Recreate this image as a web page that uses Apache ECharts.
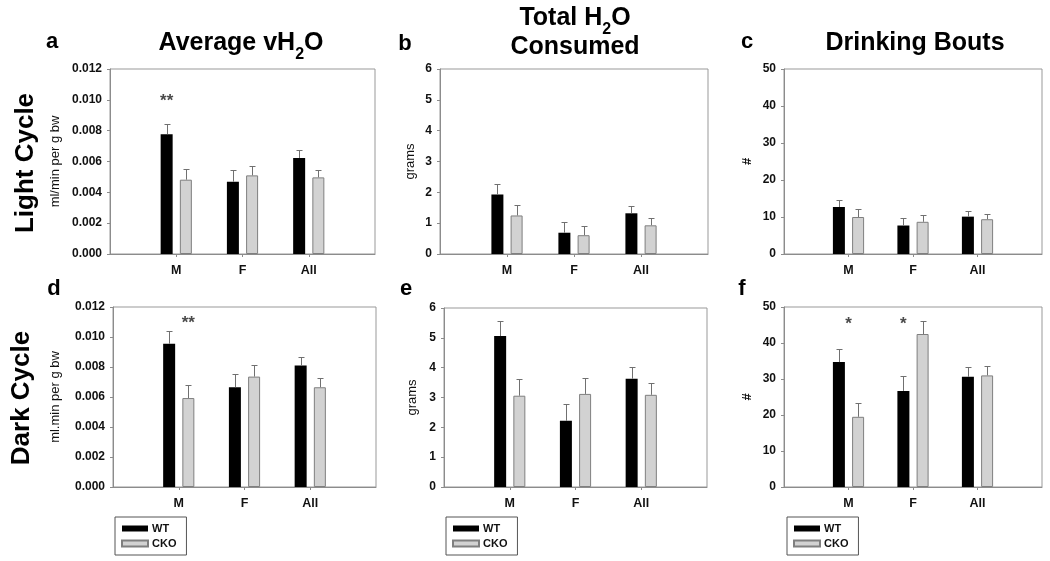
<!DOCTYPE html>
<html><head><meta charset="utf-8">
<script src="https://cdn.jsdelivr.net/npm/echarts@6/dist/echarts.min.js"></script>
<style>html,body{margin:0;padding:0;background:#fff}#c{width:1050px;height:561px}</style>
</head><body><div id="c"></div>
<script>
// ---------- DATA ----------
const categories = ['M', 'F', 'All'];
const groupNames = ['WT', 'CKO'];

// a: Light cycle, Average vH2O (ml/min per g bw)
const aWT = [0.00777, 0.00469, 0.00623];
const aWTerr = [0.00065, 0.00073, 0.00049];
const aCKO = [0.00482, 0.00510, 0.00497];
const aCKOerr = [0.00067, 0.00058, 0.00045];
// b: Light cycle, Total H2O consumed (grams)
const bWT = [1.93, 0.69, 1.32];
const bWTerr = [0.33, 0.35, 0.25];
const bCKO = [1.25, 0.61, 0.93];
const bCKOerr = [0.33, 0.31, 0.23];
// c: Light cycle, Drinking bouts (#)
const cWT = [12.7, 7.7, 10.1];
const cWTerr = [1.95, 1.97, 1.47];
const cCKO = [10.0, 8.7, 9.4];
const cCKOerr = [2.1, 1.88, 1.45];
// d: Dark cycle, Average vH2O (ml.min per g bw)
const dWT = [0.00955, 0.00665, 0.00810];
const dWTerr = [0.00082, 0.00089, 0.00058];
const dCKO = [0.00593, 0.00736, 0.00665];
const dCKOerr = [0.00090, 0.00078, 0.00060];
// e: Dark cycle, Total H2O consumed (grams)
const eWT = [5.06, 2.22, 3.63];
const eWTerr = [0.50, 0.56, 0.39];
const eCKO = [3.06, 3.12, 3.09];
const eCKOerr = [0.57, 0.52, 0.38];
// f: Dark cycle, Drinking bouts (#)
const fWT = [34.7, 26.7, 30.6];
const fWTerr = [3.75, 4.08, 2.8];
const fCKO = [19.5, 42.5, 31.0];
const fCKOerr = [3.97, 3.7, 2.7];

// significance marks: [category, value, text, over-which-group]
const aStars = [['M', 0.0099, '**', 'WT']];
const dStars = [['M', 0.0109, '**', 'CKO']];
const fStars = [['M', 45.3, '*', 'mid'], ['F', 45.3, '*', 'WT']];

// axis settings
const yMaxVol = 0.012, yStepVol = 0.002;
const yMaxGrams = 6, yStepGrams = 1;
const yMaxBouts = 50, yStepBouts = 10;
const yNameLight = 'ml/min per g bw';
const yNameDark = 'ml.min per g bw';
const yNameGrams = 'grams';
const yNameBouts = '#';

// ---------- LAYOUT / STYLE ----------
const FONT = 'Liberation Sans, Arial, Helvetica, sans-serif';
const BAR_W = 12, BAR_GAP = 0.6;
const OFF = (BAR_W + BAR_W * BAR_GAP) / 2;
const AXIS_COL = '#8c8c8c';
const ERR_COL = '#707070';

const panels = [
  {grid:{left:110, top:69, width:265, height:185}, wt:aWT, wte:aWTerr, cko:aCKO, ckoe:aCKOerr, max:yMaxVol, step:yStepVol, dec:3, name:yNameLight, gap:48, stars:aStars},
  {grid:{left:440, top:69, width:268, height:185}, wt:bWT, wte:bWTerr, cko:bCKO, ckoe:bCKOerr, max:yMaxGrams, step:yStepGrams, dec:0, name:yNameGrams, gap:23, stars:[]},
  {grid:{left:784, top:69, width:258, height:185}, wt:cWT, wte:cWTerr, cko:cCKO, ckoe:cCKOerr, max:yMaxBouts, step:yStepBouts, dec:0, name:yNameBouts, gap:30, stars:[]},
  {grid:{left:113, top:307, width:263, height:180}, wt:dWT, wte:dWTerr, cko:dCKO, ckoe:dCKOerr, max:yMaxVol, step:yStepVol, dec:3, name:yNameDark, gap:51, stars:dStars},
  {grid:{left:444, top:308, width:263, height:179}, wt:eWT, wte:eWTerr, cko:eCKO, ckoe:eCKOerr, max:yMaxGrams, step:yStepGrams, dec:0, name:yNameGrams, gap:25, stars:[]},
  {grid:{left:784, top:307, width:258, height:180}, wt:fWT, wte:fWTerr, cko:fCKO, ckoe:fCKOerr, max:yMaxBouts, step:yStepBouts, dec:0, name:yNameBouts, gap:30, stars:fStars}
];

const axisCats = [''].concat(categories, ['']);
const pad = arr => [null].concat(arr, [null]);

const grid = [], xAxis = [], yAxis = [], series = [];
panels.forEach((p, i) => {
  grid.push(Object.assign({show:true, borderColor:'#999', borderWidth:1, backgroundColor:'#fff'}, p.grid));
  xAxis.push({
    type:'category', gridIndex:i, data:axisCats, boundaryGap:false,
    axisLine:{lineStyle:{color:AXIS_COL}},
    axisTick:{show:true, length:3, interval:(idx, v) => v !== '', lineStyle:{color:AXIS_COL}},
    axisLabel:{interval:0, margin:10, color:'#111', fontFamily:FONT, fontSize:12.5, fontWeight:'bold'},
    splitLine:{show:false}
  });
  yAxis.push({
    type:'value', gridIndex:i, min:0, max:p.max, interval:p.step,
    name:p.name, nameLocation:'middle', nameGap:p.gap, nameRotate:90,
    nameTextStyle:{fontFamily:FONT, fontSize:13, color:'#111', fontWeight: p.name === '#' ? 'bold' : 'normal'},
    axisLine:{show:true, lineStyle:{color:AXIS_COL}},
    axisTick:{show:true, length:3, lineStyle:{color:AXIS_COL}},
    axisLabel:{margin:8, color:'#111', fontFamily:FONT, fontSize:12, fontWeight:'bold',
      formatter: v => v.toFixed(p.dec)},
    splitLine:{show:false}
  });
  series.push({
    name:'WT', type:'bar', xAxisIndex:i, yAxisIndex:i, data:pad(p.wt),
    barWidth:BAR_W, barGap:(BAR_GAP*100)+'%',
    itemStyle:{color:'#000'}, z:2
  });
  series.push({
    name:'CKO', type:'bar', xAxisIndex:i, yAxisIndex:i, data:pad(p.cko),
    barWidth:BAR_W, barGap:(BAR_GAP*100)+'%',
    itemStyle:{color:'#d2d2d2', borderColor:'#7f7f7f', borderWidth:1}, z:2
  });
  const errData = [];
  categories.forEach((c, k) => {
    errData.push([k + 1, p.wt[k], p.wte[k], 0]);
    errData.push([k + 1, p.cko[k], p.ckoe[k], 1]);
  });
  series.push({
    type:'custom', xAxisIndex:i, yAxisIndex:i, data:errData, z:3, silent:true,
    encode:{x:0, y:1},
    renderItem:(params, api) => {
      const x = api.value(0), mean = api.value(1), err = api.value(2), s = api.value(3);
      const p0 = api.coord([x, mean]);
      const p1 = api.coord([x, mean + err]);
      const cx = Math.round(p0[0] + (s === 0 ? -OFF : OFF)) + 0.5;
      const y1 = Math.round(p1[1]) + 0.5;
      return {type:'group', children:[
        {type:'line', shape:{x1:cx, y1:p0[1], x2:cx, y2:y1}, style:{stroke:ERR_COL, lineWidth:1}},
        {type:'line', shape:{x1:cx-3, y1:y1, x2:cx+3, y2:y1}, style:{stroke:ERR_COL, lineWidth:1}}
      ]};
    }
  });
  if (p.stars.length) {
    series.push({
      type:'custom', xAxisIndex:i, yAxisIndex:i, z:4, silent:true,
      data:p.stars.map(s => [categories.indexOf(s[0]) + 1, s[1], s[2], s[3]]),
      encode:{x:0, y:1},
      renderItem:(params, api) => {
        const pt = api.coord([api.value(0), api.value(1)]);
        const who = p.stars[params.dataIndex][3];
        const dx = who === 'WT' ? -OFF : (who === 'CKO' ? OFF : 0);
        return {type:'text', x:pt[0] + dx, y:pt[1],
          style:{text:p.stars[params.dataIndex][2], textAlign:'center', textVerticalAlign:'middle',
            font:'bold 17px ' + FONT, fill:'#4a4a4a'}};
      }
    });
  }
});

const legendBase = {
  orient:'vertical', data:groupNames, icon:'rect', itemWidth:26, itemHeight:6, itemGap:4,
  padding:[6, 10, 6, 6], borderColor:'#555', borderWidth:1, borderRadius:0,
  textStyle:{fontFamily:FONT, fontSize:11, fontWeight:'bold', color:'#111', padding:[0,0,0,-1]},
  selectedMode:false
};
const legend = [
  Object.assign({left:115, top:517}, legendBase),
  Object.assign({left:446, top:517}, legendBase),
  Object.assign({left:787, top:517}, legendBase)
];

const rich = {
  t:{fontFamily:FONT, fontSize:25, fontWeight:'bold', color:'#000', lineHeight:30},
  s:{fontFamily:FONT, fontSize:16, fontWeight:'bold', color:'#000', lineHeight:30, verticalAlign:'bottom', padding:[0,0,-5,0]}
};
function txt(x, y, text, size, rot) {
  return {type:'text', x:x, y:y, rotation:rot || 0, silent:true,
    style:{text:text, font:'bold ' + size + 'px ' + FONT, fill:'#000', textAlign:'center', textVerticalAlign:'middle'}};
}
function richTxt(x, y, text) {
  return {type:'text', x:x, y:y, silent:true,
    style:{text:text, rich:rich, textAlign:'center', textVerticalAlign:'middle', fill:'#000'}};
}
const graphic = [
  richTxt(241, 43, '{t|Average vH}{s|2}{t|O}'),
  richTxt(575, 18, '{t|Total H}{s|2}{t|O}'),
  txt(575, 47, 'Consumed', 25),
  txt(915, 43, 'Drinking Bouts', 25),
  txt(52, 42, 'a', 22), txt(405, 44, 'b', 22), txt(747, 42, 'c', 22),
  txt(54, 289, 'd', 22), txt(406, 289, 'e', 22), txt(742, 289, 'f', 22),
  txt(26, 163, 'Light Cycle', 26, Math.PI / 2),
  txt(22, 398, 'Dark Cycle', 26, Math.PI / 2)
];

const chart = echarts.init(document.getElementById('c'), null, {renderer:'canvas'});
chart.setOption({
  animation:false, backgroundColor:'#fff',
  grid, xAxis, yAxis, series, legend, graphic
});
</script></body></html>
